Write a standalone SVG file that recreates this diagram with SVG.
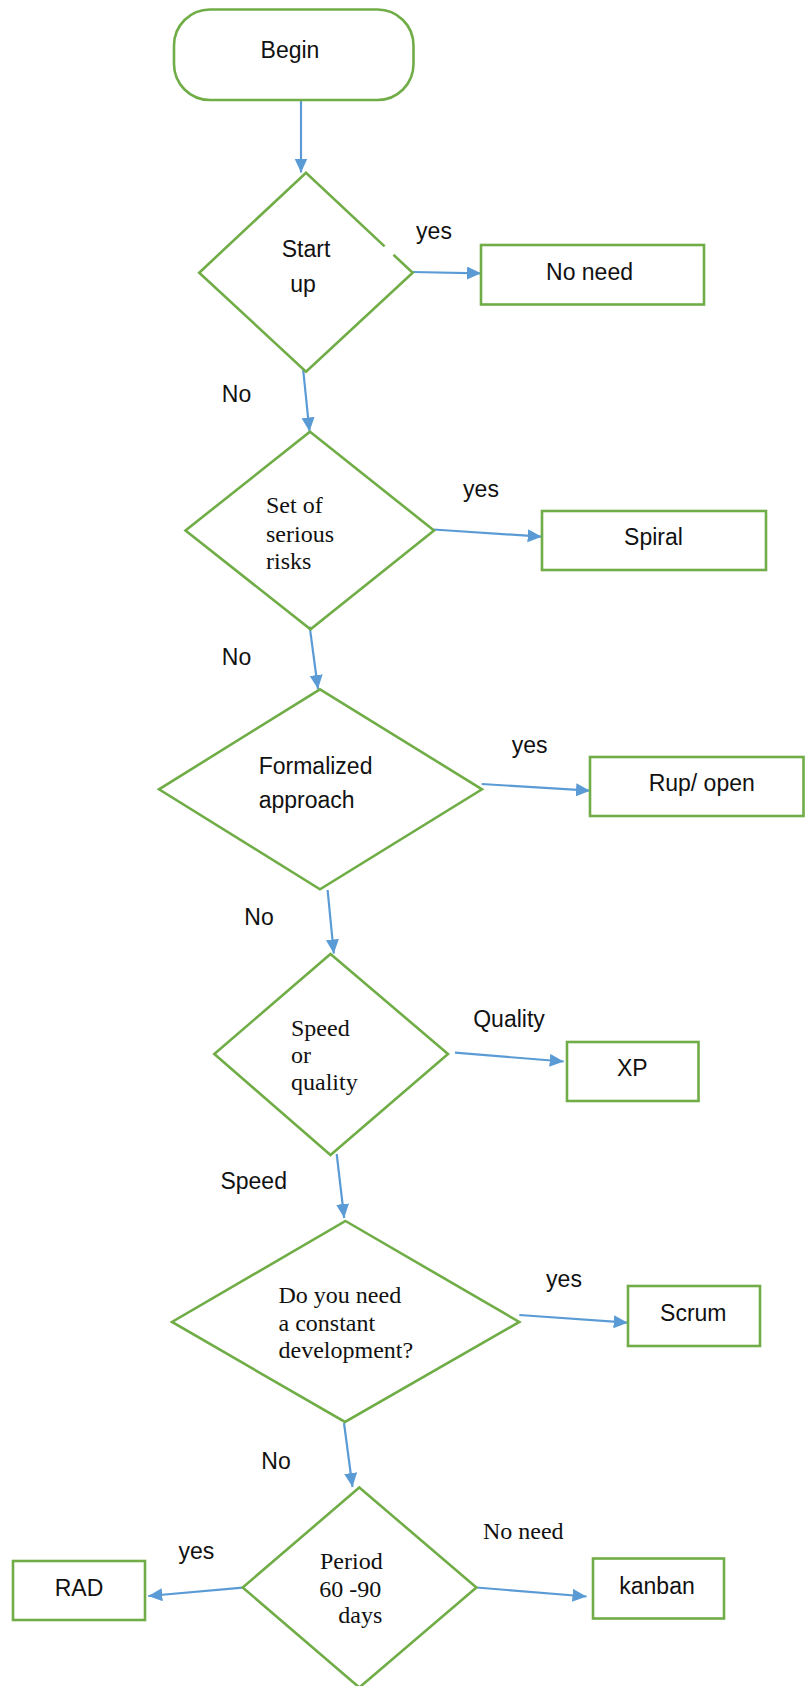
<svg xmlns="http://www.w3.org/2000/svg" width="805" height="1686" viewBox="0 0 805 1686">
<style>
.shape{fill:none;stroke:#70AD47;stroke-width:2.6;stroke-linejoin:miter}
.conn{fill:none;stroke:#5B9BD5;stroke-width:2.2}
.sans{font-family:"Liberation Sans",Arial,sans-serif;font-size:23px;fill:#111}
.serif{font-family:"Liberation Serif","Times New Roman",serif;font-size:24px;fill:#111}
.mid{text-anchor:middle}
</style>
<defs>
<marker id="arrow" markerUnits="userSpaceOnUse" markerWidth="15" markerHeight="14" refX="14" refY="6.5" orient="auto">
<path d="M0,0 L14,6.5 L0,13 Z" fill="#5B9BD5"/>
</marker>
</defs>
<rect width="805" height="1686" fill="#fff"/>

<g id="connectors">
<line class="conn" x1="301" y1="100" x2="301" y2="172.5" marker-end="url(#arrow)"/>
<line class="conn" x1="412.7" y1="272" x2="481" y2="273.3" marker-end="url(#arrow)"/>
<line class="conn" x1="303" y1="368" x2="309.5" y2="431.5" marker-end="url(#arrow)"/>
<line class="conn" x1="433.5" y1="529.5" x2="541.7" y2="536.7" marker-end="url(#arrow)"/>
<line class="conn" x1="309.7" y1="626.7" x2="318" y2="689" marker-end="url(#arrow)"/>
<line class="conn" x1="481.7" y1="784" x2="590" y2="790.7" marker-end="url(#arrow)"/>
<line class="conn" x1="327.6" y1="890" x2="333.8" y2="953.5" marker-end="url(#arrow)"/>
<line class="conn" x1="455" y1="1052.7" x2="563.7" y2="1061.5" marker-end="url(#arrow)"/>
<line class="conn" x1="336.7" y1="1154" x2="344.2" y2="1218" marker-end="url(#arrow)"/>
<line class="conn" x1="519.3" y1="1315" x2="627.7" y2="1322.7" marker-end="url(#arrow)"/>
<line class="conn" x1="344" y1="1423" x2="352.5" y2="1487" marker-end="url(#arrow)"/>
<line class="conn" x1="242.7" y1="1587.7" x2="148.3" y2="1596" marker-end="url(#arrow)"/>
<line class="conn" x1="476.4" y1="1587.5" x2="586.5" y2="1596.5" marker-end="url(#arrow)"/>
</g>

<g id="begin">
<rect class="shape" x="174" y="9.5" width="239.5" height="90.5" rx="36" ry="36"/>
<text class="sans mid" x="290" y="58">Begin</text>
</g>

<g id="startup">
<path class="shape" d="M384.6,246.4 L306,172.7 L199.2,272.7 L306,371.7 L412.7,272.7 L393.5,254.8"/>
<text class="sans mid" x="306" y="257">Start</text>
<text class="sans mid" x="303" y="292">up</text>
</g>

<g id="noneed">
<rect class="shape" x="481" y="245" width="223" height="59.5"/>
<text class="sans mid" x="589.5" y="280">No need</text>
</g>

<g id="risks">
<polygon class="shape" points="310,431.7 434,530.5 310.5,629.3 185.5,530.5"/>
<text class="serif" x="266" y="513">Set of</text>
<text class="serif" x="266" y="541.5">serious</text>
<text class="serif" x="266" y="568.5">risks</text>
</g>

<g id="spiral">
<rect class="shape" x="542" y="511" width="224" height="59"/>
<text class="sans mid" x="653.5" y="545">Spiral</text>
</g>

<g id="formalized">
<polygon class="shape" points="320,689.3 482,789.3 320,889.3 159,789.3"/>
<text class="sans" x="258.7" y="774">Formalized</text>
<text class="sans" x="258.7" y="808">approach</text>
</g>

<g id="rup">
<rect class="shape" x="590" y="757" width="213.5" height="59"/>
<text class="sans mid" x="701.7" y="790.7">Rup/ open</text>
</g>

<g id="speedquality">
<polygon class="shape" points="330.5,954 448,1054 330.5,1155 214.3,1054"/>
<text class="serif" x="291" y="1036">Speed</text>
<text class="serif" x="291" y="1063">or</text>
<text class="serif" x="291" y="1090">quality</text>
</g>

<g id="xp">
<rect class="shape" x="567" y="1042" width="131.5" height="59"/>
<text class="sans mid" x="632.3" y="1076">XP</text>
</g>

<g id="constant">
<polygon class="shape" points="345.5,1221 519.3,1322 345,1422 172,1322"/>
<text class="serif" x="278.5" y="1303">Do you need</text>
<text class="serif" x="278.5" y="1331">a constant</text>
<text class="serif" x="278.5" y="1357.7">development?</text>
</g>

<g id="scrum">
<rect class="shape" x="628" y="1286" width="132" height="60"/>
<text class="sans mid" x="693.3" y="1321">Scrum</text>
</g>

<g id="period">
<polygon class="shape" points="359.3,1487.5 476.4,1587.5 359.3,1687.5 242.7,1587.5"/>
<text class="serif" x="320" y="1569">Period</text>
<text class="serif" x="319.3" y="1596.7">60 -90</text>
<text class="serif" x="338.3" y="1623.3">days</text>
</g>

<g id="rad">
<rect class="shape" x="13" y="1561" width="132" height="59"/>
<text class="sans mid" x="79" y="1596">RAD</text>
</g>

<g id="kanban">
<rect class="shape" x="593" y="1558.5" width="131" height="60"/>
<text class="sans mid" x="657" y="1593.5">kanban</text>
</g>

<g id="labels">
<text class="sans mid" x="434" y="239">yes</text>
<text class="sans mid" x="236.5" y="402">No</text>
<text class="sans mid" x="481" y="497">yes</text>
<text class="sans mid" x="236.5" y="665">No</text>
<text class="sans mid" x="529.7" y="753">yes</text>
<text class="sans mid" x="259" y="925">No</text>
<text class="sans mid" x="509" y="1026.7">Quality</text>
<text class="sans mid" x="253.7" y="1189">Speed</text>
<text class="sans mid" x="564" y="1287">yes</text>
<text class="sans mid" x="276" y="1469">No</text>
<text class="sans mid" x="196.3" y="1559">yes</text>
<text class="serif mid" x="523.3" y="1539">No need</text>
</g>
</svg>
